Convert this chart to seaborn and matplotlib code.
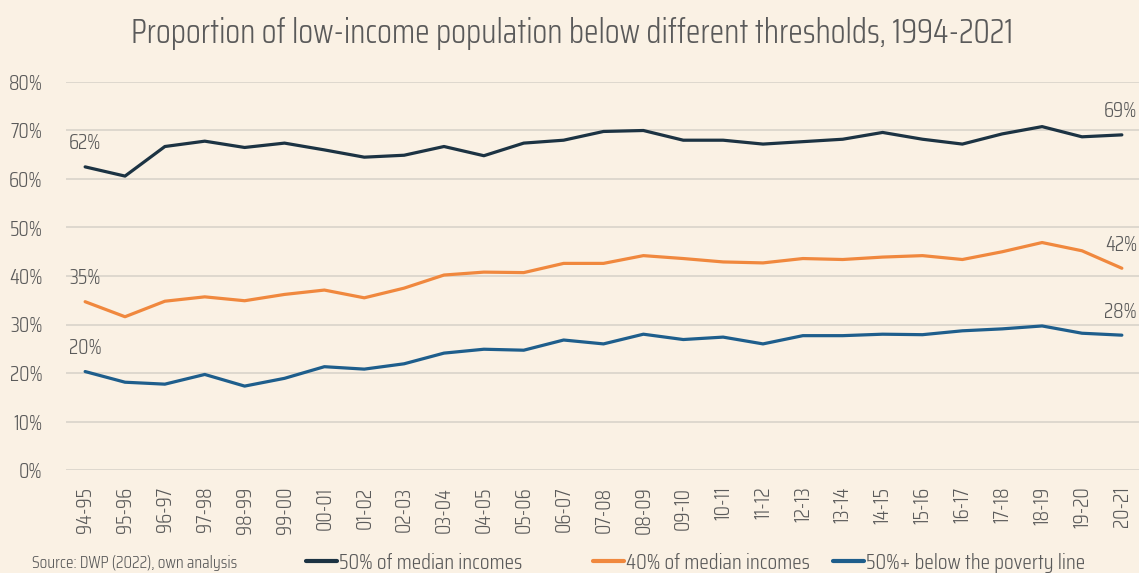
import matplotlib
matplotlib.use('Agg')
import matplotlib.pyplot as plt
from matplotlib.lines import Line2D
import seaborn as sns
import pandas as pd
import numpy as np

years = ['94-95', '95-96', '96-97', '97-98', '98-99', '99-00', '00-01', '01-02', '02-03',
         '03-04', '04-05', '05-06', '06-07', '07-08', '08-09', '09-10', '10-11', '11-12',
         '12-13', '13-14', '14-15', '15-16', '16-17', '17-18', '18-19', '19-20', '20-21']

median50 = [62.5, 60.6, 66.7, 67.8, 66.5, 67.4, 66.0, 64.5, 64.9, 66.7, 64.8, 67.4, 68.0, 69.8,
            70.0, 68.0, 68.0, 67.2, 67.7, 68.2, 69.6, 68.2, 67.2, 69.3, 70.8, 68.7, 69.1]
median40 = [34.7, 31.6, 34.8, 35.7, 34.9, 36.2, 37.1, 35.5, 37.5, 40.2, 40.8, 40.7, 42.6, 42.6,
            44.2, 43.6, 42.9, 42.7, 43.6, 43.4, 43.9, 44.2, 43.4, 45.0, 46.9, 45.2, 41.6]
poverty50 = [20.3, 18.1, 17.7, 19.7, 17.3, 18.9, 21.3, 20.8, 21.9, 24.1, 24.9, 24.7, 26.8, 26.0,
             28.0, 26.9, 27.4, 26.0, 27.7, 27.7, 28.0, 27.9, 28.7, 29.1, 29.7, 28.2, 27.8]

series_names = ['50% of median incomes', '40% of median incomes', '50%+ below the poverty line']
colors = ['#1c3343', '#f0883e', '#1e5e8c']

start_labels = ['62%', '35%', '20%']
end_labels = ['69%', '42%', '28%']

df = pd.DataFrame({
    'idx': list(range(len(years))) * 3,
    'value': median50 + median40 + poverty50,
    'series': [s for s in series_names for _ in years],
})

bg = '#faf1e4'
txt = '#5a5a5a'
sns.set_theme(style='white')
# condensed face like the original, DejaVu as fallback
plt.rcParams['font.family'] = ['Saira Condensed', 'DejaVu Sans']
plt.rcParams['font.weight'] = 300

fig = plt.figure(figsize=(11.39, 5.73), dpi=100, facecolor=bg)
ax = fig.add_axes([66 / 1139, 1 - 470 / 573, (1139 - 66) / 1139, (470 - 82) / 573])
ax.set_facecolor(bg)

sns.lineplot(data=df, x='idx', y='value', hue='series', palette=colors,
             linewidth=2.3, legend=False, ax=ax)

ax.set_xlim(-0.48, 26.43)
ax.set_ylim(0, 80)
ax.set_yticks(np.arange(0, 81, 10))
ax.set_yticklabels(['{}%'.format(v) for v in range(0, 81, 10)])
ax.set_xticks(range(len(years)))
ax.set_xticklabels(years, rotation=90)
ax.tick_params(axis='y', labelsize=15.3, colors=txt, length=0, pad=17)
ax.tick_params(axis='x', labelsize=15.3, colors=txt, length=0, pad=12)
ax.grid(axis='y', color='#dcd6cc', linewidth=1.3)
ax.set_xlabel('')
ax.set_ylabel('')
for s in ax.spines.values():
    s.set_visible(False)

# start / end value labels
for vals, lab in zip([median50, median40, poverty50], start_labels):
    ax.annotate(lab, (0, vals[0]), xytext=(-11.5, 17), textcoords='offset points',
                fontsize=15.3, color=txt, ha='left', va='center')
for vals, lab in zip([median50, median40, poverty50], end_labels):
    ax.annotate(lab, (len(years) - 1, vals[-1]), xytext=(11, 17), textcoords='offset points',
                fontsize=15.3, color=txt, ha='right', va='center')

fig.text(572 / 1139, 1 - 33 / 573, 'Proportion of low-income population below different thresholds, 1994-2021',
         ha='center', va='center', fontsize=24.2, color=txt)
fig.text(32 / 1139, 1 - 563 / 573, 'Source: DWP (2022), own analysis',
         ha='left', va='center', fontsize=12.5, color=txt)

# one legend per item so each sits where the original has it
for name, c, x0 in zip(series_names, colors, [306, 593, 833]):
    fig.legend([Line2D([0], [0], color=c, linewidth=3)], [name], loc='center left',
               bbox_to_anchor=(x0 / 1139, 1 - 563 / 573), frameon=False, fontsize=15.7,
               handlelength=1.4, handletextpad=0.1, borderpad=0, borderaxespad=0,
               labelcolor=txt)

fig.savefig('out.png', dpi=100, facecolor=bg)
